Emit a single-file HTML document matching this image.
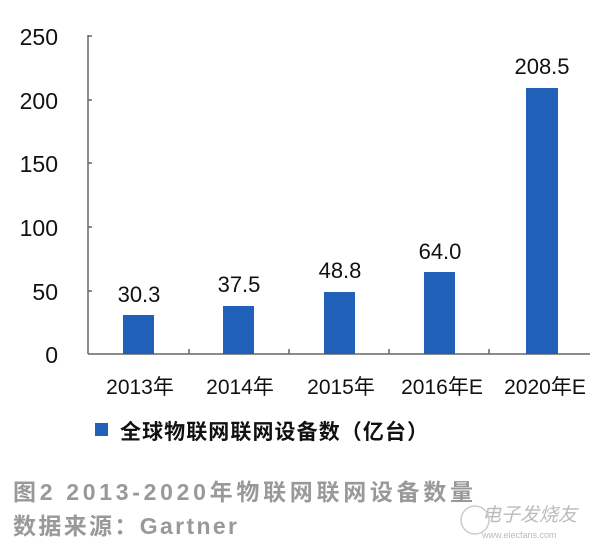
<!DOCTYPE html>
<html><head><meta charset="utf-8"><style>
body{margin:0;background:#fff;}
svg text{font-family:"Liberation Sans","Noto Sans CJK SC",sans-serif;}
</style></head><body>
<svg width="600" height="554" viewBox="0 0 600 554" xmlns="http://www.w3.org/2000/svg">
<rect width="600" height="554" fill="#fff"/>
<g stroke="#666" stroke-width="1.5" fill="none">
<line x1="88" y1="35" x2="88" y2="354"/>
<line x1="88" y1="354" x2="590" y2="354"/>
<line x1="88" y1="36" x2="92" y2="36"/>
<line x1="88" y1="100" x2="92" y2="100"/>
<line x1="88" y1="163" x2="92" y2="163"/>
<line x1="88" y1="227" x2="92" y2="227"/>
<line x1="88" y1="291" x2="92" y2="291"/>
<line x1="189" y1="349" x2="189" y2="354"/>
<line x1="289" y1="349" x2="289" y2="354"/>
<line x1="389" y1="349" x2="389" y2="354"/>
<line x1="489" y1="349" x2="489" y2="354"/>
</g>
<g font-size="23" fill="#111" text-anchor="end">
<text x="58" y="45">250</text>
<text x="58" y="109">200</text>
<text x="58" y="172">150</text>
<text x="58" y="236">100</text>
<text x="58" y="300">50</text>
<text x="58" y="363">0</text>
</g>
<g fill="#2060b8">
<rect x="123" y="315" width="31" height="39"/>
<rect x="223" y="306" width="31" height="48"/>
<rect x="324" y="292" width="31" height="62"/>
<rect x="424" y="272" width="31" height="82"/>
<rect x="526" y="88" width="32" height="266"/>
</g>
<g font-size="22" fill="#111" text-anchor="middle">
<text x="139" y="302">30.3</text>
<text x="239" y="292">37.5</text>
<text x="340" y="278">48.8</text>
<text x="440" y="259">64.0</text>
<text x="542" y="74">208.5</text>
</g>
<g font-size="21" fill="#111" text-anchor="middle">
<text x="140" y="394">2013年</text>
<text x="240" y="394">2014年</text>
<text x="341" y="394">2015年</text>
<text x="442" y="394">2016年E</text>
<text x="545" y="394">2020年E</text>
</g>
<rect x="95" y="423" width="13" height="13" fill="#2060b8"/>
<text x="120" y="439" font-size="21" fill="#111" font-weight="bold" textLength="308">全球物联网联网设备数（亿台）</text>
<text x="13" y="500" font-size="23" fill="#999" font-weight="bold" textLength="460">图2   2013-2020年物联网联网设备数量</text>
<text x="13" y="534" font-size="23" fill="#999" font-weight="bold" textLength="224">数据来源：Gartner</text>
<text x="482" y="521" font-size="19" fill="#bbb" font-style="italic">电子发烧友</text>
<text x="482" y="538" font-size="9" fill="#bbb">www.elecfans.com</text>
<circle cx="475" cy="520" r="14" fill="none" stroke="#ccc" stroke-width="1.5"/>
</svg>
</body></html>
